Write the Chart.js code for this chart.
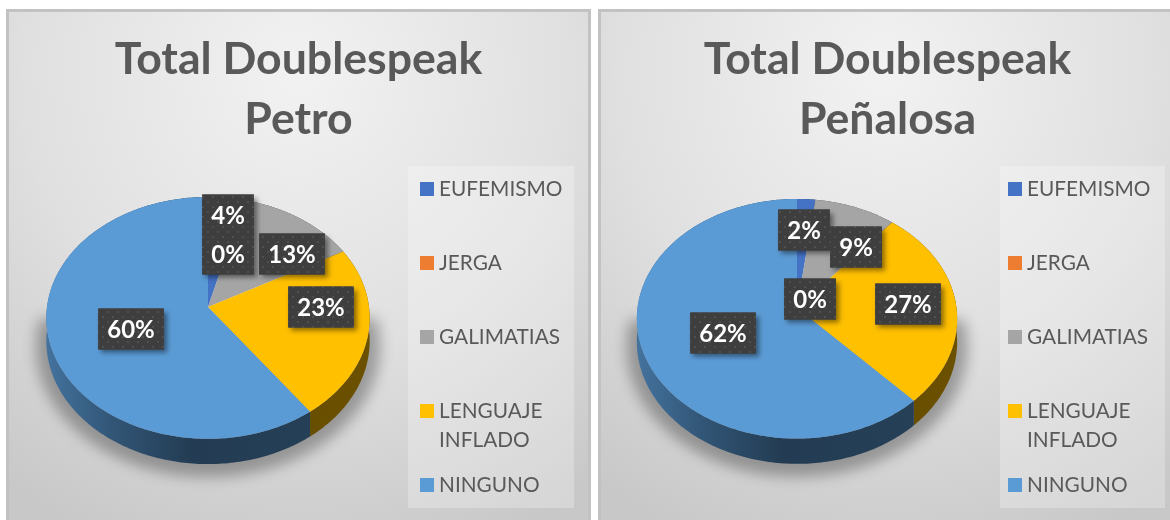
<!DOCTYPE html>
<html><head><meta charset="utf-8">
<script src="https://cdn.jsdelivr.net/npm/chart.js@4"></script>
<style>
html,body{margin:0;padding:0;background:#fff;width:1170px;height:520px;overflow:hidden}
.panel{position:absolute;top:9px;height:511px;box-sizing:border-box;border-top:3px solid #c2c2c2;border-left:3px solid #c2c2c2;
background:radial-gradient(ellipse 85% 100% at 50% 12%,#f2f2f2 0%,#e0e0e0 55%,#c8c8c8 100%)}
#p1{left:6px;width:585px;border-right:3px solid #c2c2c2}
#p2{left:598px;width:572px}
canvas{position:absolute;top:9px}
</style></head><body>
<div class="panel" id="p1"></div><div class="panel" id="p2"></div>
<canvas id="c1" style="left:6px"></canvas>
<canvas id="c2" style="left:598px"></canvas>
<script>
const categories=["EUFEMISMO","JERGA","GALIMATIAS","LENGUAJE INFLADO","NINGUNO"];
const legendLines=[["EUFEMISMO"],["JERGA"],["GALIMATIAS"],["LENGUAJE","INFLADO"],["NINGUNO"]];
const colors=["#4472C4","#ED7D31","#A5A5A5","#FFC000","#5B9BD5"];
const petroValues=[4,0,13,23,60];
const penalosaValues=[2,0,9,27,62];
const petroTitle=["Total Doublespeak","Petro"];
const penalosaTitle=["Total Doublespeak","Peñalosa"];

const TILT=0.745,PERSP=0.09,DEPTH=23,FONT="Lato, Carlito, 'Open Sans', sans-serif";

function pt(el,a,f=1,dy=0){const u=Math.cos(a),v=-Math.sin(a),w=1+PERSP*v,R=el.outerRadius*f;
  return [el.x+R*u/w, el.y-R*TILT*v/w+dy/w];}
function arcPts(el,a0,a1,f=1,dy=0){const n=Math.max(2,Math.ceil((a1-a0)*60)),o=[];
  for(let i=0;i<=n;i++)o.push(pt(el,a0+(a1-a0)*i/n,f,dy));return o;}
function shade(hex,m){const n=parseInt(hex.slice(1),16);
  return `rgb(${(n>>16&255)*m|0},${(n>>8&255)*m|0},${(n&255)*m|0})`;}
function trace(ctx,p){p.forEach((q,i)=>i?ctx.lineTo(q[0],q[1]):ctx.moveTo(q[0],q[1]));}
function trace2(ctx,p){p.forEach(q=>ctx.lineTo(q[0],q[1]));}

function dotPattern(ctx){const t=document.createElement('canvas');t.width=t.height=10;const c=t.getContext('2d');
  c.fillStyle='#3e3e3e';c.fillRect(0,0,10,10);c.fillStyle='#4f4f4f';
  [[1,2],[6,7]].forEach(d=>c.fillRect(d[0],d[1],2,2));return ctx.createPattern(t,'repeat');}

const pie3d={id:'pie3d',
  afterLayout(chart,args,opts){ // centre the title over the whole panel, not over the padded pie area
    chart.titleBlock.left=opts.titleShift;chart.titleBlock.right=chart.width+opts.titleShift;
  },
  beforeDatasetDraw(chart,args,opts){
    const ctx=chart.ctx,arcs=chart.getDatasetMeta(0).data,e0=arcs[0];
    ctx.save();ctx.filter='blur(7px)';ctx.fillStyle='rgba(0,0,0,0.30)';ctx.beginPath();
    trace(ctx,arcPts(e0,-0.12,Math.PI+0.12,1.065,DEPTH+4));ctx.closePath();ctx.fill();ctx.restore();
    arcs.forEach((el,i)=>{ if(el.endAngle-el.startAngle<1e-4)return;
      const top=arcPts(el,el.startAngle,el.endAngle),bot=arcPts(el,el.startAngle,el.endAngle,1,DEPTH).reverse();
      const g=ctx.createLinearGradient(el.x-el.outerRadius,0,el.x+el.outerRadius,0),c=colors[i];
      g.addColorStop(0,shade(c,.74));g.addColorStop(.2,shade(c,.56));g.addColorStop(.45,shade(c,.39));g.addColorStop(1,shade(c,.42));
      ctx.fillStyle=g;ctx.beginPath();trace(ctx,top.concat(bot));ctx.closePath();ctx.fill();});
    arcs.forEach((el,i)=>{ if(el.endAngle-el.startAngle<1e-4)return;
      ctx.fillStyle=colors[i];ctx.beginPath();ctx.moveTo(el.x,el.y);trace2(ctx,arcPts(el,el.startAngle,el.endAngle));ctx.closePath();ctx.fill();});
    return false;
  },
  afterDatasetsDraw(chart,args,opts){
    const ctx=chart.ctx,arcs=chart.getDatasetMeta(0).data,e0=arcs[0],vals=chart.data.datasets[0].data;
    const pat=dotPattern(ctx);
    ctx.save();ctx.font="700 24px "+FONT;ctx.textAlign='center';ctx.textBaseline='middle';
    opts.labelBoxes.forEach((b,i)=>{
      const txt=vals[i]+'%',w=ctx.measureText(txt).width+opts.padX*2,h=opts.boxH,x=e0.x+b[0],y=e0.y+b[1];
      ctx.save();ctx.shadowColor='rgba(0,0,0,.45)';ctx.shadowBlur=5;ctx.shadowOffsetX=3;ctx.shadowOffsetY=3;
      ctx.fillStyle='#3e3e3e';ctx.fillRect(x-w/2,y-h/2,w,h);ctx.restore();
      ctx.fillStyle=pat;ctx.fillRect(x-w/2,y-h/2,w,h);
      ctx.fillStyle='#fff';ctx.fillText(txt,x,y+1);
    });
    ctx.restore();
    ctx.save();const L=opts.legend;
    ctx.fillStyle='rgba(255,255,255,.26)';ctx.fillRect(L.x,L.y,L.w,L.h);
    ctx.font="400 20.8px "+FONT;ctx.textBaseline='middle';ctx.textAlign='left';
    legendLines.forEach((lines,i)=>{
      const y=L.first+L.step*i;
      ctx.fillStyle=colors[i];ctx.fillRect(L.itemX,y-7,14,14);
      ctx.fillStyle='#595959';lines.forEach((t,j)=>ctx.fillText(t,L.itemX+19,y+j*29));
    });
    ctx.restore();
  }};

function make(id,values,title,w,cx,cy,R,labelBoxes,legend,titleBottom,titleShift){
  const cv=document.getElementById(id);
  return new Chart(cv,{type:'pie',plugins:[pie3d],
    data:{labels:categories,datasets:[{data:values,backgroundColor:colors,borderWidth:0}]},
    options:{responsive:false,animation:false,rotation:0,devicePixelRatio:1,
      layout:{padding:{left:cx-R,right:w-cx-R,top:0,bottom:511-cy-R}},
      plugins:{legend:{display:false},tooltip:{enabled:false},
        title:{display:true,text:title,color:'#595959',align:'center',
          font:{family:FONT,weight:'700',size:44.6,lineHeight:60/44.6},
          padding:{top:21,bottom:titleBottom}},
        pie3d:{labelBoxes,padX:9,boxH:41,legend,titleShift}}}});
}
function size(id,w){const c=document.getElementById(id);c.width=w;c.height=511;c.style.width=w+'px';c.style.height='511px';}
size('c1',585);size('c2',572);
make('c1',petroValues,petroTitle,585,202,298,161,
  [[20,-92],[20,-53],[84,-53],[113,0],[-77,22]],
  {x:402,y:157,w:166,h:342,itemX:414,first:180,step:74},-4,0);
make('c2',penalosaValues,penalosaTitle,572,199,299,159.5,
  [[7,-78],[13,-9],[59,-61],[111,-4],[-74,25]],
  {x:402,y:157,w:165,h:342,itemX:410,first:180,step:74},-1.5,3.5);
</script></body></html>
